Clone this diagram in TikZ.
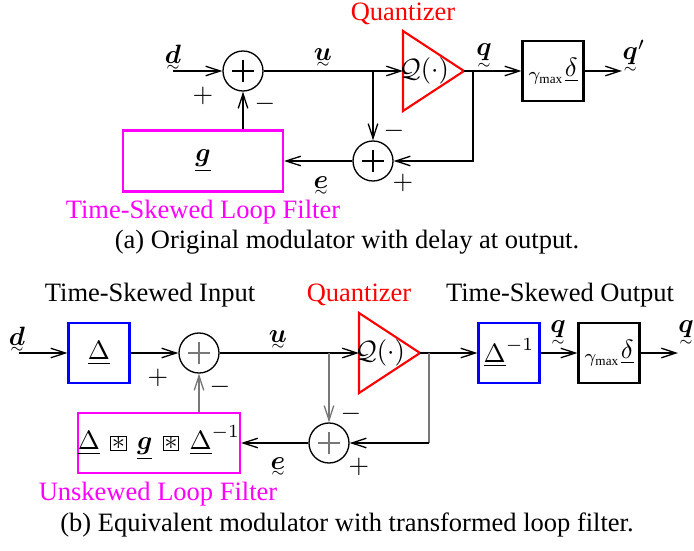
\documentclass[tikz,border=0pt]{standalone}
\usepackage{amsmath}
\usepackage{fontspec}
\setmainfont{Liberation Serif}
\usetikzlibrary{arrows.meta,calc}
\definecolor{mag}{RGB}{255,0,255}
\definecolor{qred}{RGB}{255,0,0}
\definecolor{bblue}{RGB}{0,0,255}
\definecolor{lgray}{RGB}{120,120,120}
\newcommand\tv[1]{\mathord{\vtop{\offinterlineskip\halign{\hfil##\hfil\cr$\boldsymbol{#1}$\cr\noalign{\kern0.8pt}$\scriptscriptstyle\sim$\cr}}}}
\newcommand\bast{\mathbin{\,\fboxsep=0.2pt\fboxrule=0.4pt\fbox{$\ast$}\,}}
\def\PX{0.3774pt}
\begin{document}
\begin{tikzpicture}[x=\PX,y=-\PX,
  ln/.style={line width=0.5pt},
  arr/.style={line width=0.5pt,-{Straight Barb[length=5.5pt,width=3.6pt,line width=0.5pt]}},
  sumc/.style={circle,draw,line width=0.5pt,minimum size=40*\PX,inner sep=0pt,
    path picture={\draw[line width=0.5pt,#1] (path picture bounding box.center) ++(-11,0) -- ++(22,0)
      (path picture bounding box.center) ++(0,-11) -- ++(0,22);}},
  sumc/.default=black,
  blkbox/.style={draw,line width=0.8pt,minimum width=61*\PX,minimum height=60*\PX,inner sep=0pt},
  bluebox/.style={blkbox,draw=bblue},
  magbox/.style={draw=mag,line width=0.8pt,minimum width=160*\PX,minimum height=61*\PX,inner sep=0pt},
  quant/.style={draw=qred,line width=0.8pt,line join=miter},
  lbl/.style={inner sep=0pt}
]
\useasboundingbox (0,0) rectangle (694,550);

% ---------------- (a) ----------------
\coordinate (din1) at (173,71);
\node[sumc] (s1) at (243,71) {};
\node[sumc] (s2) at (373,161) {};
\draw[quant] (403,31) -- (464,71) -- (403,111) -- cycle;
\coordinate (q1w) at (403,71);
\coordinate (q1e) at (464,71);
\node[lbl] (Q1) at (424,71) {$\mathcal{Q}(\cdot)$};
\node[blkbox] (db1) at (553,71) {${}_{\gamma_{\max}}\underline{\delta}$};
\coordinate (out1) at (622,71);
\node[magbox] (g1) at (203,161) {$\underline{\boldsymbol{g}}$};
\coordinate (b1) at (373,71);
\coordinate (b2) at (473,71);

\draw[arr] (din1) -- (s1);
\draw[arr] (s1) -- (q1w);
\draw[arr] (b1) -- (s2);
\draw[arr] (q1e) -- (db1);
\draw[arr] (db1) -- (out1);
\draw[arr] (b2) |- (s2);
\draw[arr] (s2) -- (g1);
\draw[arr] (g1.north -| s1) -- (s1);

\node[lbl] (ld1) at (173,58) {$\tv{d}$};
\node[lbl] (lu1) at (323,58) {$\tv{u}$};
\node[lbl] (lq1) at (484,56) {$\tv{q}$};
\node[lbl] (lq1p) at (634,56) {$\tv{q}'$};
\node[lbl] (le1) at (321,186) {$\tv{e}$};
\node[lbl] (p1) at (203,96) {$+$};
\node[lbl] (m1) at (265,104) {$-$};
\node[lbl] (m2) at (394,131) {$-$};
\node[lbl] (p2) at (403,183) {$+$};
\node[lbl,text=qred] (tq1) at (403,14) {Quantizer};
\node[lbl,text=mag] (tf1) at (203,212) {Time-Skewed Loop Filter};
\node[lbl] (cap1) at (347,242) {(a) Original modulator with delay at output.};

% ---------------- (b) ----------------
\coordinate (din2) at (19,353);
\node[bluebox] (D1) at (99,353) {$\underline{\Delta}$};
\node[sumc=lgray] (s3) at (199,353) {};
\node[sumc=lgray] (s4) at (329,443) {};
\draw[quant] (359,313) -- (420,353) -- (359,393) -- cycle;
\coordinate (q2w) at (359,353);
\coordinate (q2e) at (420,353);
\node[lbl] (Q2) at (380,353) {$\mathcal{Q}(\cdot)$};
\node[bluebox] (D2) at (509,353) {$\underline{\Delta}^{-1}$};
\node[blkbox] (db2) at (609,353) {${}_{\gamma_{\max}}\underline{\delta}$};
\coordinate (out2) at (678,353);
\node[magbox,minimum height=60*\PX] (g2) at (159,443) {$\underline{\Delta}\bast\underline{\boldsymbol{g}}\bast\underline{\Delta}^{-1}$};
\coordinate (b3) at (329,353);
\coordinate (b4) at (429,353);
\coordinate (c4) at (429,443);

\draw[arr] (din2) -- (D1);
\draw[arr] (D1) -- (s3);
\draw[arr] (s3) -- (q2w);
\draw[arr,draw=lgray] (b3) -- (s4);
\draw[arr] (q2e) -- (D2);
\draw[arr] (D2) -- (db2);
\draw[arr] (db2) -- (out2);
\draw[ln,draw=lgray] (b4) -- (c4);
\draw[arr] (c4) -- (s4);
\draw[arr] (s4) -- (g2);
\draw[arr,draw=lgray] (g2.north -| s3) -- (s3);

\node[lbl] (ld2) at (17,340) {$\tv{d}$};
\node[lbl] (lu2) at (278,340) {$\tv{u}$};
\node[lbl] (lq2) at (558,333) {$\tv{q}$};
\node[lbl] (lq3) at (686,333) {$\tv{q}$};
\node[lbl] (le2) at (278,467) {$\tv{e}$};
\node[lbl] (p3) at (158,378) {$+$};
\node[lbl] (m3) at (220,387) {$-$};
\node[lbl] (m4) at (351,414) {$-$};
\node[lbl] (p4) at (359,467) {$+$};
\node[lbl] (ti) at (150,295) {Time-Skewed Input};
\node[lbl,text=qred] (tq2) at (359,295) {Quantizer};
\node[lbl] (to) at (560,295) {Time-Skewed Output};
\node[lbl,text=mag] (tf2) at (158,494) {Unskewed Loop Filter};
\node[lbl] (cap2) at (347,525) {(b) Equivalent modulator with transformed loop filter.};
\end{tikzpicture}
\end{document}
